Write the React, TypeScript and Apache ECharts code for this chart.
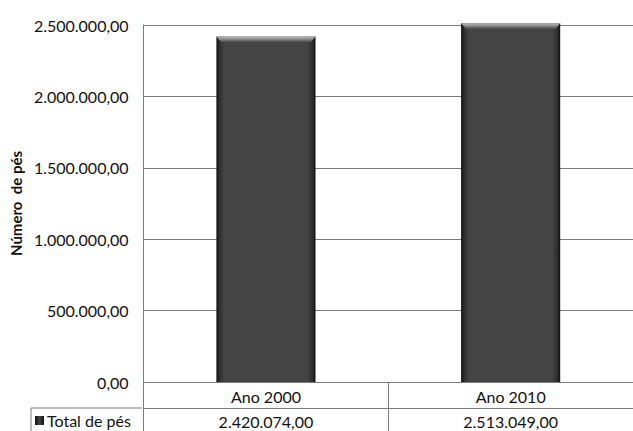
import React, { useEffect, useRef } from "react";
import * as echarts from "echarts";

const categories = ["Ano 2000", "Ano 2010"];
const values = [2420074, 2513049];
const seriesName = "Total de pés";
const yTitle = "Número  de pés";
const yMax = 2500000;
const yStep = 500000;

function fmt(v: number): string {
  const s = Math.round(v).toString().replace(/\B(?=(\d{3})+(?!\d))/g, ".");
  return s + ",00";
}

const FONT = "Lato, 'Open Sans', sans-serif";
const GRID = "#7a7a7a";
const TXT = "#111111";

export default function App() {
  const ref = useRef<HTMLDivElement>(null);
  useEffect(() => {
    if (!ref.current) return;
    const chart = echarts.init(ref.current, undefined, { renderer: "svg" });
    const option: any = {
      animation: false,
      backgroundColor: "#ffffff",
      textStyle: { fontFamily: FONT },
      grid: { left: 142, width: 500, top: 25, height: 357, containLabel: false },
      xAxis: [
        {
          type: "category",
          data: categories,
          position: "bottom",
          axisLine: { show: true, lineStyle: { color: GRID, width: 1 } },
          axisTick: { show: true, length: 49, lineStyle: { color: GRID } },
          axisLabel: { color: TXT, fontSize: 16, margin: 6, fontFamily: FONT },
        },
        {
          type: "category",
          data: categories,
          position: "bottom",
          offset: 26,
          axisLine: { show: true, lineStyle: { color: GRID, width: 1 } },
          axisTick: { show: false },
          axisLabel: {
            color: TXT,
            fontSize: 16,
            margin: 5,
            fontFamily: FONT,
            formatter: (_v: string, i: number) => fmt(values[i]),
          },
        },
      ],
      yAxis: {
        type: "value",
        min: 0,
        max: yMax,
        interval: yStep,
        name: yTitle,
        nameLocation: "middle",
        nameGap: 117,
        nameTextStyle: { fontSize: 15, fontWeight: "bold", color: TXT, fontFamily: FONT },
        axisLine: { show: true, lineStyle: { color: GRID } },
        axisTick: { show: false },
        splitLine: { show: true, lineStyle: { color: GRID, width: 1 } },
        axisLabel: { color: TXT, fontSize: 16, margin: 15, fontFamily: FONT, formatter: (v: number) => fmt(v) },
      },
      series: [
        {
          name: seriesName,
          type: "custom",
          xAxisIndex: 0,
          data: values.map((v, i) => [i, v]),
          encode: { x: 0, y: 1 },
          renderItem: (_params: any, api: any) => {
            const idx = api.value(0);
            const v = api.value(1);
            const top = api.coord([idx, v]);
            const base = api.coord([idx, 0]);
            const w = api.size([1, 0])[0] * 0.405;
            const l = top[0] - w / 2;
            const h = base[1] - top[1];
            return {
              type: "group",
              children: [
                {
                  type: "rect",
                  shape: { x: l, y: top[1], width: w, height: h },
                  style: {
                    fill: new echarts.graphic.LinearGradient(0, 0, 1, 0, [
                      { offset: 0, color: "#0e0e0e" },
                      { offset: 0.03, color: "#2e2e2e" },
                      { offset: 0.08, color: "#444444" },
                      { offset: 0.92, color: "#444444" },
                      { offset: 0.97, color: "#2e2e2e" },
                      { offset: 1, color: "#0e0e0e" },
                    ]),
                  },
                },
                {
                  type: "polygon",
                  shape: {
                    points: [
                      [l, top[1]],
                      [l + w, top[1]],
                      [l + w - 5, top[1] + 6],
                      [l + 5, top[1] + 6],
                    ],
                  },
                  style: {
                    fill: new echarts.graphic.LinearGradient(0, 0, 0, 1, [
                      { offset: 0, color: "#bdbdbd" },
                      { offset: 0.5, color: "#858585" },
                      { offset: 1, color: "#444444" },
                    ]),
                  },
                },
              ],
            };
          },
        },
      ],
      graphic: [
        { type: "line", shape: { x1: 31, y1: 408, x2: 142, y2: 408 }, style: { stroke: GRID, lineWidth: 1 } },
        { type: "line", shape: { x1: 31, y1: 408, x2: 31, y2: 431 }, style: { stroke: GRID, lineWidth: 1 } },
        {
          type: "rect",
          shape: { x: 35, y: 416, width: 9, height: 9 },
          style: {
            fill: new echarts.graphic.LinearGradient(0, 0, 1, 0, [
              { offset: 0, color: "#111" },
              { offset: 0.5, color: "#444" },
              { offset: 1, color: "#111" },
            ]),
          },
        },
        {
          type: "text",
          x: 47,
          y: 420,
          style: { text: seriesName, fontSize: 16, fill: TXT, fontFamily: FONT, verticalAlign: "middle" },
        },
      ],
    };
    chart.setOption(option);
    return () => chart.dispose();
  }, []);
  return <div ref={ref} style={{ width: 633, height: 431, position: "absolute", left: 0, top: 0 }} />;
}
